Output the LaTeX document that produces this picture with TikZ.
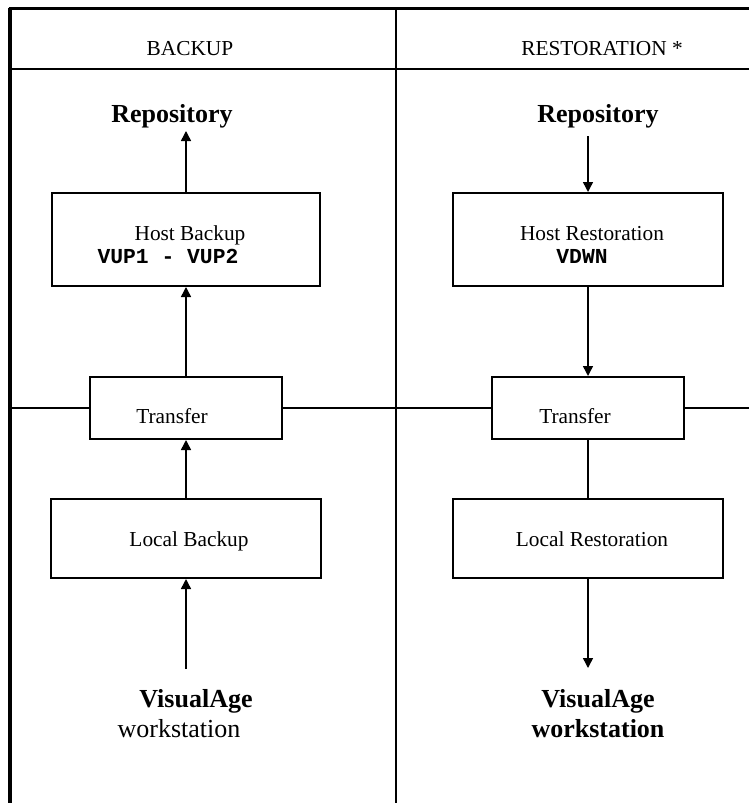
\documentclass[tikz,border=0pt]{standalone}
\usepackage{fontspec}
\setmainfont{Liberation Serif}
\setmonofont{Liberation Mono}
\usetikzlibrary{arrows.meta}
\tikzset{
	block/.style={draw, line width=1.5pt},
	flow/.style={-{Triangle[width=7.5pt, length=7.5pt]}, line width=1.1pt},
	rule/.style={line width=1.5pt},
	label/.style={anchor=base, inner sep=0pt, font=\fontsize{16}{19}\selectfont},
	title/.style={anchor=base, inner sep=0pt, font=\fontsize{19.5}{23}\selectfont\bfseries}
}

\begin{document}
\begin{tikzpicture}[x=0.75pt, y=-0.75pt]
		\useasboundingbox (0,0) rectangle (749,803);
		
		% frame, header and column rules
		\draw[line width=3pt] (10,803) -- (10,8);
		\draw[line width=2.25pt] (8.5,8.5) -- (749,8.5);
		\draw[rule] (10,69) -- (749,69);
		\draw[rule] (396,8.5) -- (396,803);
		
		\node[label] (hdback) at (190,55) {BACKUP};
		\node[label] (hdrest) at (602,55) {RESTORATION *};
		
		% backup column
		\node[title] (repoL) at (172,122) {Repository};
		
		\node[block, minimum width=201pt, minimum height=69.75pt] (hostb) at (186,239.5) {};
		\node[label] at (190,240) {Host Backup};
		\node[label, font=\fontsize{16}{19}\selectfont\ttfamily\bfseries] at (168,263) {VUP1 - VUP2};
		
		\node[block, minimum width=144pt, minimum height=46.5pt] (trl) at (186,408) {};
		\node[label] at (172,423) {Transfer};
		
		\node[block, minimum width=202pt, minimum height=59.25pt] (lback) at (186,538.5) {};
		\node[label] at (189,546) {Local Backup};
		
		\node[title] (vaL) at (196,707) {VisualAge};
		\node[title, font=\fontsize{19.5}{23}\selectfont] (wsL) at (179,737) {workstation};
		
		% restoration column
		\node[title] (repoR) at (598,122) {Repository};
		
		\node[block, minimum width=202.5pt, minimum height=69.75pt] (hostr) at (588,239.5) {};
		\node[label] at (592,240) {Host Restoration};
		\node[label, font=\fontsize{16}{19}\selectfont\ttfamily\bfseries] at (582,263) {VDWN};
		
		\node[block, minimum width=144pt, minimum height=46.5pt] (trr) at (588,408) {};
		\node[label] at (575,423) {Transfer};
		
		\node[block, minimum width=202.5pt, minimum height=59.25pt] (lrest) at (588,538.5) {};
		\node[label] at (592,546) {Local Restoration};
		
		\node[title] (vaR) at (598,707) {VisualAge};
		\node[title] (wsR) at (598,737) {workstation};
		
		% transfer line across both columns
		\coordinate (midL) at (10,408);
		\coordinate (midR) at (749,408);
		\draw[rule] (midL) -- (trl.west);
		\draw[rule] (trl.east) -- (trr.west);
		\draw[rule] (trr.east) -- (midR);
		
		% loose ends of the flows
		\coordinate (upL) at (186,131);
		\coordinate (inL) at (186,669);
		\coordinate (dnR) at (588,136);
		\coordinate (outR) at (588,668);
		
		\draw[flow] (inL)         -- (lback.south);
		\draw[flow] (lback.north) -- (trl.south);
		\draw[flow] (trl.north)   -- (hostb.south);
		\draw[flow] (hostb.north) -- (upL);
		
		\draw[flow] (dnR)         -- (hostr.north);
		\draw[flow] (hostr.south) -- (trr.north);
		\draw[line width=1.1pt] (trr.south) -- (lrest.north);
		\draw[flow] (lrest.south) -- (outR);
	\end{tikzpicture}
\end{document}
